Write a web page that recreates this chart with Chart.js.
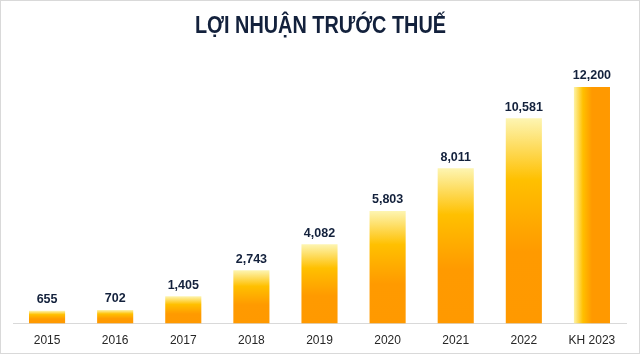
<!DOCTYPE html>
<html>
<head>
<meta charset="utf-8">
<script src="https://cdn.jsdelivr.net/npm/chart.js@4/dist/chart.umd.min.js"></script>
<style>
  html, body { margin: 0; padding: 0; background: #fff; }
  #wrap { width: 640px; height: 354px; box-sizing: border-box; border: 1px solid #d9d9d9; }
  #myChart { display: block; }
</style>
</head>
<body>
<div id="wrap"><canvas id="myChart" width="638" height="352"></canvas></div>
<script>
var years = ['2015', '2016', '2017', '2018', '2019', '2020', '2021', '2022', 'KH 2023'];
var profit = [655, 702, 1405, 2743, 4082, 5803, 8011, 10581, 12200];
var chartTitle = 'LỢI NHUẬN TRƯỚC THUẾ';

// vertical gradient for normal bars, horizontal one for the plan bar
function barFill(c)
{
    var chart = c.chart;
    var area = chart.chartArea;
    if (!area || c.type !== 'data') return '#ff9900';
    var ys = chart.scales.y, xs = chart.scales.x;
    var g;
    if (c.dataIndex === years.length - 1) {
        var cx = xs.getPixelForValue(c.dataIndex);
        var half = area.width / years.length * 0.265;
        g = chart.ctx.createLinearGradient(cx - half, 0, cx + half, 0);
        g.addColorStop(0, '#fdf3a6');
        g.addColorStop(0.25, '#ffc000');
        g.addColorStop(0.5, '#ff9900');
        g.addColorStop(1, '#ff9900');
    } else {
        var top = ys.getPixelForValue(c.raw);
        var base = ys.getPixelForValue(0);
        g = chart.ctx.createLinearGradient(0, top, 0, base);
        g.addColorStop(0, '#fdf5b2');
        g.addColorStop(0.3, '#ffc000');
        g.addColorStop(0.65, '#ff9a00');
        g.addColorStop(1, '#ff9900');
    }
    return g;
}

// title in a narrow bold face, plus value labels above the bars
var textLayer = {
    id: 'textLayer',
    afterDraw: function(chart) {
        var ctx = chart.ctx;
        ctx.save();
        ctx.font = 'bold 24px "Liberation Sans", Arial, sans-serif';
        ctx.fillStyle = '#13213c';
        ctx.textAlign = 'center';
        ctx.textBaseline = 'alphabetic';
        ctx.fillText(chartTitle, 319.5, 31.5, 251);
        ctx.restore();
    },
    afterDatasetsDraw: function(chart) {
        var ctx = chart.ctx;
        var meta = chart.getDatasetMeta(0);
        ctx.save();
        ctx.font = 'bold 12.5px "Liberation Sans", Arial, sans-serif';
        ctx.fillStyle = '#13213c';
        ctx.textAlign = 'center';
        ctx.textBaseline = 'alphabetic';
        meta.data.forEach(function(bar, i) {
            ctx.fillText(profit[i].toLocaleString('en-US'), bar.x, bar.y - 7.5);
        });
        ctx.restore();
    }
};

var ctx = document.getElementById('myChart').getContext('2d');
var chart = new Chart(ctx, {
    type: 'bar',
    data: {
        labels: years,
        datasets: [{
            data: profit,
            backgroundColor: barFill,
            borderWidth: 0,
            barPercentage: 0.53,
            categoryPercentage: 1
        }]
    },
    options: {
        responsive: false,
        animation: false,
        layout: { padding: { left: 12, right: 13, top: 51, bottom: 0 } },
        plugins: {
            legend: { display: false },
            tooltip: { enabled: false },
            title: { display: false }
        },
        scales: {
            x: {
                grid: { display: false, drawTicks: false },
                border: { display: true, color: '#d9d9d9', width: 1 },
                ticks: {
                    color: '#262626',
                    padding: 10,
                    maxRotation: 0,
                    font: { family: '"Liberation Sans", Arial, sans-serif', size: 12 }
                },
                afterFit: function(scale) { scale.height = 29.5; }
            },
            y: {
                display: false,
                min: 0,
                max: 14000
            }
        }
    },
    plugins: [textLayer]
});
</script>
</body>
</html>
